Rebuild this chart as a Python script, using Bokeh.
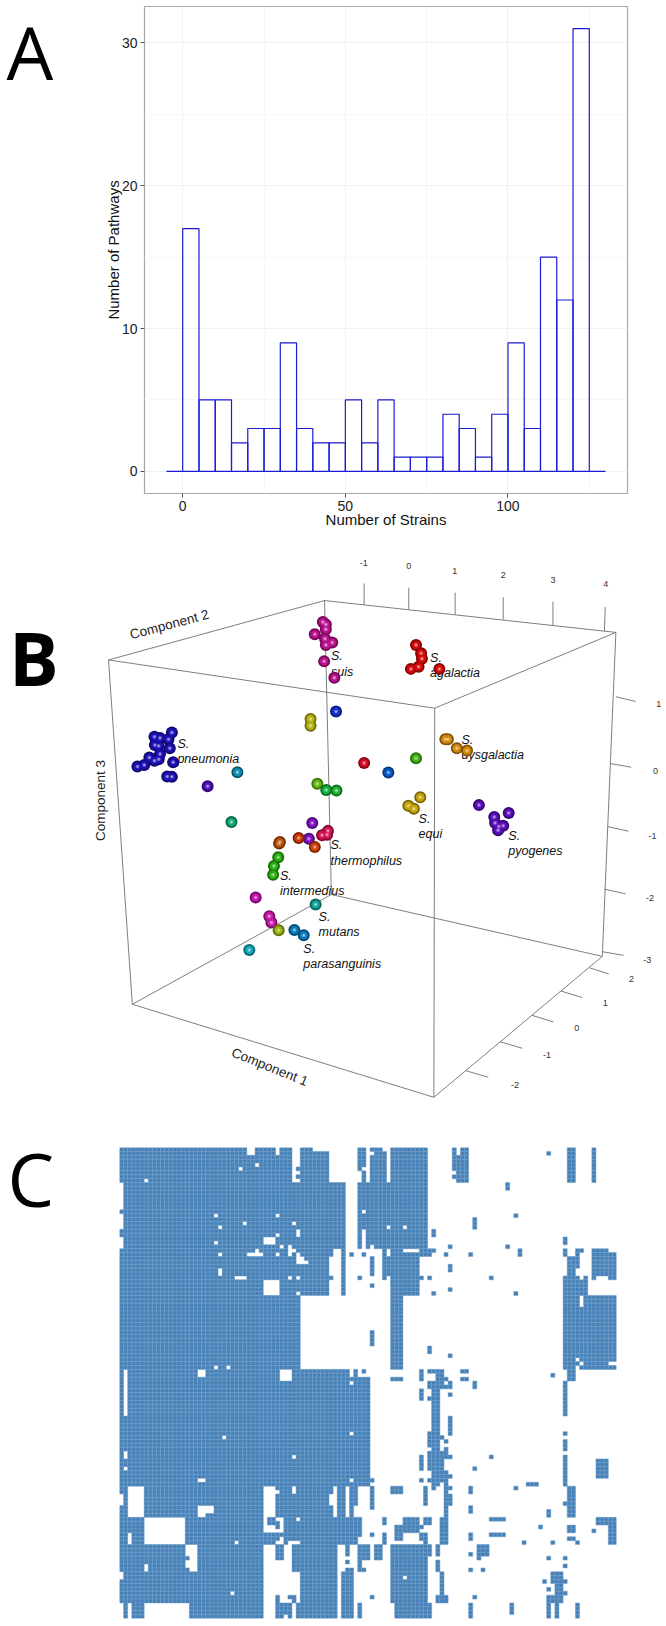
from bokeh.plotting import figure
from bokeh.layouts import column, row
from bokeh.models import FixedTicker, Range1d
from bokeh.core.properties import value
from bokeh.embed import file_html
from bokeh.resources import INLINE

SANS = "Liberation Sans"
LETTER = "Open Sans"

# ---------- Panel A: histogram ----------
bin_left = [-5, 0, 5, 10, 15, 20, 25, 30, 35, 40, 45, 50, 55, 60, 65, 70, 75, 80, 85, 90, 95, 100, 105, 110, 115, 120, 125]
pathways = [0, 17, 5, 5, 2, 3, 3, 9, 3, 2, 2, 5, 2, 5, 1, 1, 1, 4, 3, 1, 4, 9, 3, 15, 12, 31, 0]
BIN_W = 5
x_ticks_a = [0, 50, 100]
y_ticks_a = [0, 10, 20, 30]

# ---------- Panel B: projected 3-D scatter (positions as seen on the picture) ----------
box_x0 = [254, 762, 1447, 1021, 254, 1021, 1447, 762, 310, 1019, 1415, 778]
box_y0 = [334, 168, 257, 469, 334, 469, 257, 168, 1297, 1557, 1163, 990]
box_x1 = [762, 1447, 1021, 254, 310, 1019, 1415, 778, 1019, 1415, 778, 310]
box_y1 = [168, 257, 469, 334, 1297, 1557, 1163, 990, 1557, 1163, 990, 1297]
tick_x0 = [855, 960, 1069, 1182, 1299, 1420, 1447, 1435, 1427, 1420, 1415, 1385, 1318, 1250, 1175, 1095]
tick_y0 = [180, 193, 207, 221, 237, 253, 437, 624, 800, 975, 1150, 1195, 1260, 1328, 1402, 1483]
tick_x1 = [855, 960, 1069, 1182, 1299, 1422, 1493, 1483, 1477, 1470, 1465, 1430, 1368, 1300, 1227, 1147]
tick_y1 = [120, 132, 146, 159, 171, 186, 450, 634, 813, 988, 1160, 1212, 1278, 1346, 1420, 1501]
tl_x = [854, 960, 1068, 1182, 1299, 1423, 1548, 1540, 1533, 1527, 1521, 1484, 1422, 1355, 1285, 1210]
tl_y = [62, 72, 84, 97, 110, 121, 457, 645, 826, 1000, 1173, 1226, 1292, 1362, 1440, 1523]
tl_t = ["-1", "0", "1", "2", "3", "4", "1", "0", "-1", "-2", "-3", "2", "1", "0", "-1", "-2"]

axis_names = ["Component 2", "Component 3", "Component 1"]
axis_name_x = [397, 235, 633]
axis_name_y = [235, 727, 1472]
axis_name_angle = [15, 90, -22]

species = ["suis", "agalactia", "pneumonia", "dysgalactia", "equi", "pyogenes", "thermophilus", "intermedius", "mutans", "parasanguinis"]
species_x = [777, 1010, 416, 1084, 983, 1194, 776, 657, 748, 712]
species_y1 = [324, 328, 569, 557, 778, 825, 852, 937, 1052, 1142]
species_y2 = [367, 371, 612, 600, 821, 868, 895, 979, 1095, 1185]

pt_x = [758, 765, 765, 739, 763, 780, 765, 761, 785,
        977, 989, 991, 983, 965, 1032,
        789, 729, 729,
        403, 362, 375, 395, 363, 372, 398, 375, 350, 372, 362, 338, 322, 406, 392, 403,
        487, 557, 543,
        1046, 1052, 1073, 1097,
        977, 855, 912, 745, 766, 790,
        987, 959, 972,
        1125, 1195, 1161, 1163, 1182, 1172, 1170,
        733, 725, 770, 756, 768, 701, 739, 655, 657,
        653, 643, 641, 600, 632, 637, 741, 654, 691, 713, 585]
pt_y = [228, 235, 248, 262, 275, 285, 292, 338, 384,
        292, 315, 331, 353, 359, 359,
        478, 499, 518,
        537, 549, 552, 556, 572, 575, 581, 597, 607, 612, 616, 628, 632, 620, 660, 661,
        687, 648, 787,
        556, 556, 581, 587,
        609, 622, 649, 680, 698, 699,
        718, 742, 750,
        740, 762, 773, 790, 798, 800, 810,
        790, 834, 812, 824, 823, 832, 857, 847, 843,
        886, 910, 935, 998, 1051, 1068, 1018, 1090, 1089, 1104, 1145]
pt_c = ["#b8108c"] * 9 + ["#d40808"] * 6 + ["#1030c8", "#b4b010", "#b4b010"] + ["#1c10b4"] * 16 + \
       ["#4a10b4", "#0f8cb0", "#10a878"] + ["#d08808"] * 4 + \
       ["#40b010", "#d80820", "#0858c8", "#60b810", "#10b040", "#20b030"] + ["#c4a408"] * 3 + ["#5a0cb8"] * 7 + \
       ["#8010c0", "#8010c0", "#d0104f", "#d0104f", "#d0104f", "#c83808", "#d04008", "#b85008", "#b85008"] + \
       ["#28b010"] * 3 + ["#c010b0", "#c818a8", "#c818a8", "#10a098", "#98b010", "#0878b8", "#0878b8", "#10a8b8"]

# ---------- Panel C: presence/absence matrix (row from, row to, col from, col to) ----------
N_ROWS = 121
N_COLS = 121
blue_blocks = [
    (0,117,0,44),(117,121,0,44),(0,1,44,47),(1,9,44,51),(9,26,44,55),(26,38,44,51),(26,28,51,52),(33,34,51,52),(26,38,54,55),
    (57,59,44,56),(59,87,44,61),(57,59,57,58),(57,58,59,60),(87,95,44,58),(95,100,44,59),(100,102,44,58),(102,121,44,53),
    (102,105,55,56),(106,107,55,56),(108,109,55,57),(109,121,54,57),(102,106,58,61),(106,108,58,59),(108,109,58,60),(117,121,58,59),
    (0,6,58,59),(0,5,59,60),(6,9,59,60),(9,26,58,75),(0,1,61,64),(1,9,61,65),(0,9,66,75),
    (26,34,64,65),(26,27,66,69),(27,28,66,76),(26,27,73,77),(28,33,64,73),(33,34,66,74),(34,38,66,73),(38,57,66,69),
    (28,33,61,62),(35,36,61,62),(47,51,61,62),
    (27,28,56,57),(27,28,59,60),(33,34,58,59),(21,23,76,77),(25,26,80,81),(27,28,79,80),(27,28,85,86),(30,32,80,81),(33,34,75,76),
    (37,38,76,77),(36,37,80,81),(33,34,90,91),(25,26,94,95),(26,28,97,98),(37,38,96,97),(17,18,96,97),(9,11,94,95),(18,21,86,87),(1,2,104,105),
    (0,9,81,85),(0,9,109,111),(0,9,115,116),(51,53,75,76),(53,54,80,81),
    (23,25,108,109),(26,28,108,109),(26,27,111,113),(27,28,111,112),(28,31,109,112),(31,33,109,111),
    (26,27,115,119),(27,33,115,121),(33,34,115,116),(33,34,119,121),(33,38,108,114),(38,57,108,121),(57,60,109,111),(58,59,105,106),
    (57,60,73,74),(57,58,75,79),(58,60,77,79),(59,60,79,80),(57,58,83,85),(59,60,83,85),(59,60,66,69),
    (60,62,75,79),(61,62,79,81),(60,61,80,81),(60,62,86,87),(62,65,73,74),(64,65,75,76),(62,73,76,78),(63,64,80,81),(69,74,80,81),
    (73,77,75,78),(74,75,78,79),(75,76,79,80),(77,78,76,78),(78,83,75,79),(79,80,79,81),(77,79,79,80),(79,83,73,74),(83,86,76,80),
    (84,85,80,81),(85,86,73,74),(85,86,75,76),(86,88,76,77),(86,87,77,78),(86,95,79,80),(87,88,80,81),(89,92,80,81),
    (87,89,66,69),(87,92,74,75),(87,89,85,86),(92,94,85,86),(99,101,85,86),(82,83,86,87),(79,80,90,91),(87,88,96,97),(86,87,99,102),
    (60,69,108,109),(73,74,108,109),(75,78,108,109),(79,87,108,109),(87,95,109,111),(91,92,108,109),(80,85,116,119),(93,95,104,105),
    (97,98,102,103),(95,96,90,94),(99,100,90,94),(95,97,116,121),(97,102,119,121),(98,99,115,116),(97,99,109,111),(100,101,109,111),
    (101,102,111,112),(101,102,105,106),(101,102,98,99),(85,86,61,62),(87,93,61,62),(99,100,61,62),(115,116,61,62),
    (95,97,64,65),(99,102,64,65),(95,99,69,73),(97,98,73,74),(95,97,74,76),(97,101,67,69),(99,101,73,75),(101,102,74,75),(95,102,78,80),
    (102,117,66,75),(102,105,75,76),(117,121,67,76),(102,106,62,64),(102,105,77,78),(106,109,77,78),(109,115,78,79),(115,117,77,80),
    (117,121,85,86),(104,105,85,86),(108,109,85,86),(108,109,88,89),(115,116,86,87),(102,105,87,90),(105,106,87,88),(117,120,95,96),
    (105,106,104,105),(105,106,108,109),(107,108,108,109),(109,112,105,108),(111,112,103,104),(111,112,108,109),(112,117,106,108),
    (113,114,104,105),(114,115,108,109),(115,117,104,106),(117,121,104,105),(117,121,106,107),(117,121,111,112),
]
white_blocks = [
    (0,2,31,33),(0,2,38,39),(0,9,42,43),(0,5,43,44),(6,7,43,44),(8,9,43,44),(8,9,6,7),(5,6,29,30),(4,5,33,34),
    (9,16,0,1),(17,21,0,1),(23,26,0,1),(17,18,23,24),(17,18,38,39),(19,20,30,31),(19,20,42,43),(20,21,24,25),(21,23,43,44),
    (22,23,38,39),(23,25,35,38),(24,25,23,24),(25,26,39,40),(27,28,24,25),(27,28,31,35),(26,27,33,34),(27,28,38,39),(25,28,41,42),
    (26,27,42,43),(27,30,43,44),(28,30,44,45),(29,30,45,46),(31,33,24,25),(33,34,28,31),(33,34,41,42),(33,34,43,44),(34,38,35,39),(37,38,43,44),
    (56,57,23,24),(56,57,26,27),(57,59,19,21),(57,69,1,2),(57,60,39,42),(60,61,56,57),(73,74,56,57),(74,75,25,26),(79,80,42,43),
    (78,80,1,2),(82,83,1,2),(85,86,19,21),(85,86,56,57),(87,95,2,6),(89,92,0,1),(95,102,6,16),(99,102,2,3),(102,109,16,19),
    (107,109,6,7),(109,111,0,1),(92,95,19,23),(101,102,28,29),(114,115,27,28),(87,99,35,38),(88,89,38,39),(95,99,38,40),(87,89,42,43),(95,96,43,44),
    (87,95,52,53),(89,92,51,52),(87,95,55,56),(92,95,57,58),(100,102,39,40),(101,102,38,39),(101,102,41,44),(102,121,35,38),(102,106,40,42),
    (106,109,38,42),(109,117,38,44),(120,121,40,41),(117,121,42,43),(117,121,0,1),(117,121,2,3),(117,121,6,17),
    (20,21,65,66),(20,21,69,70),(1,2,61,62),(0,9,65,66),(0,2,82,83),(6,7,81,82),(8,9,81,82),(16,17,59,60),(21,26,59,60),(25,26,61,62),
    (110,111,69,70),(33,34,112,113),(38,41,112,113),(54,55,111,112),(55,56,112,113),(55,56,119,121),(56,57,111,112),(60,61,79,80),
]
late_blue = [(95,97,36,38),(96,98,38,39),(105,106,16,17),(108,109,16,17),(94,95,21,23),(115,117,38,39),(115,116,41,43),(116,117,42,43)]

# ---------- build ----------
LEFT_A = 60  # width of the strip holding panel letter A
LEFT_C = 100  # width of the strip holding panel letter C


def letter_fig(text, w, h, x, y):
    f = figure(width=w, height=h, output_backend="svg", toolbar_location=None, frame_align=False,
               x_range=Range1d(0, w), y_range=Range1d(h, 0), x_axis_type=None, y_axis_type=None,
               min_border=0, min_border_left=0, min_border_right=0, min_border_top=0, min_border_bottom=0)
    f.grid.visible = False
    f.outline_line_color = None
    f.text([x], [y], text=[text], text_font=value(LETTER), text_font_size="74px", text_color="black",
           text_baseline="middle")
    return f


# A
pa = figure(width=666 - LEFT_A, height=540, output_backend="svg", toolbar_location=None, frame_align=False,
            x_range=Range1d(-11.75, 136.75), y_range=Range1d(-1.55, 32.55),
            min_border_left=144 - LEFT_A, min_border_right=39, min_border_top=6, min_border_bottom=47)
pa.quad(left=bin_left, right=[b + BIN_W for b in bin_left], bottom=0, top=pathways,
        fill_color=None, line_color="#1a1ad8", line_width=1.2)
pa.xaxis.ticker = FixedTicker(ticks=x_ticks_a, minor_ticks=[25, 75, 125])
pa.yaxis.ticker = FixedTicker(ticks=y_ticks_a, minor_ticks=[5, 15, 25])
pa.xgrid.ticker = FixedTicker(ticks=x_ticks_a, minor_ticks=[25, 75, 125])
pa.ygrid.ticker = FixedTicker(ticks=y_ticks_a, minor_ticks=[5, 15, 25])
for g in (pa.xgrid[0], pa.ygrid[0]):
    g.grid_line_color = "#f0f0f0"
    g.minor_grid_line_color = "#f7f7f7"
for ax in (pa.xaxis[0], pa.yaxis[0]):
    ax.axis_line_color = None
    ax.minor_tick_line_color = None
    ax.major_tick_in = 0
    ax.major_tick_out = 4
    ax.major_tick_line_color = "#555555"
    ax.major_label_text_font = SANS
    ax.major_label_text_font_size = "14px"
    ax.major_label_text_color = "#222222"
    ax.axis_label_text_font = SANS
    ax.axis_label_text_font_size = "15px"
    ax.axis_label_text_font_style = "normal"
    ax.axis_label_text_color = "#111111"
    ax.major_label_standoff = 3
pa.xaxis[0].axis_label = "Number of Strains"
pa.yaxis[0].axis_label = "Number of Pathways"
pa.xaxis[0].axis_label_standoff = -3
pa.yaxis[0].axis_label_standoff = -3
pa.outline_line_color = "#a8a8a8"
pa.outline_line_width = 1.2
pa.background_fill_color = "white"

# B
pb = figure(width=666, height=560, output_backend="svg", toolbar_location=None, frame_align=False,
            x_range=Range1d(0, 1566), y_range=Range1d(1566, 0), x_axis_type=None, y_axis_type=None,
            min_border=0, min_border_left=0, min_border_right=0, min_border_top=0, min_border_bottom=0)
pb.grid.visible = False
pb.outline_line_color = None
pb.segment(box_x0, box_y0, box_x1, box_y1, line_color="#707070", line_width=0.9)
pb.segment(tick_x0, tick_y0, tick_x1, tick_y1, line_color="#707070", line_width=0.9)
pb.text(tl_x, tl_y, text=tl_t, text_font=value(SANS), text_font_size="9px", text_color="#333333",
        text_align="center", text_baseline="middle")
pb.text(axis_name_x, axis_name_y, text=axis_names, angle=axis_name_angle, angle_units="deg", text_font=value(SANS),
        text_font_size="13.5px", text_color="#222222", text_align="center", text_baseline="middle")
pb.text(species_x, species_y1, text=["S."] * len(species), text_font=value(SANS), text_font_size="12.5px",
        text_font_style="italic", text_color="#111111", text_baseline="middle")
pb.text(species_x, species_y2, text=species, text_font=value(SANS), text_font_size="12.5px",
        text_font_style="italic", text_color="#111111", text_baseline="middle")


def darker(c, f):
    return "#%02x%02x%02x" % tuple(int(int(c[i:i + 2], 16) * f) for i in (1, 3, 5))


def lighter(c, f):
    return "#%02x%02x%02x" % tuple(int(int(c[i:i + 2], 16) + (255 - int(c[i:i + 2], 16)) * f) for i in (1, 3, 5))


pb.scatter(pt_x, pt_y, size=12, fill_color=[darker(c, 0.62) for c in pt_c], line_color=None)
pb.scatter(pt_x, pt_y, size=8.5, fill_color=pt_c, line_color=None)
pb.scatter(pt_x, pt_y, size=4, fill_color=[lighter(c, 0.3) for c in pt_c], line_color=None)
pb.scatter(pt_x, pt_y, size=2, fill_color=[lighter(c, 0.6) for c in pt_c], line_color=None)
pb.text([20], [327], text=["B"], text_font=value(LETTER), text_font_size="74px", text_color="black",
        text_font_style="bold", text_baseline="middle")

# C
matrix = [[0] * N_COLS for _ in range(N_ROWS)]
for blocks, v in ((blue_blocks, 1), (white_blocks, 0), (late_blue, 1)):
    for r0, r1, c0, c1 in blocks:
        for r in range(r0, r1):
            for c in range(c0, c1):
                matrix[r][c] = v
xs, ys = [], []
for r in range(N_ROWS):
    for c in range(N_COLS):
        if matrix[r][c]:
            xs.append(c + 0.5)
            ys.append(r + 0.5)

pc = figure(width=666 - LEFT_C, height=526, output_backend="svg", toolbar_location=None, frame_align=False,
            x_range=Range1d(0, N_COLS), y_range=Range1d(N_ROWS, 0), x_axis_type=None, y_axis_type=None,
            min_border_left=119 - LEFT_C, min_border_right=50, min_border_top=47, min_border_bottom=8)
pc.grid.visible = False
pc.outline_line_color = None
pc.rect(xs, ys, width=1, height=1, fill_color="#4680b6", line_color="#6f9fca", line_width=0.5)

layout = column(row(letter_fig("A", LEFT_A, 540, 6, 51), pa, spacing=0),
                pb,
                row(letter_fig("C", LEFT_C, 526, 7, 78), pc, spacing=0),
                spacing=0, margin=(0, 0, 0, 0))
open("out.html", "w").write(file_html(layout, INLINE))
